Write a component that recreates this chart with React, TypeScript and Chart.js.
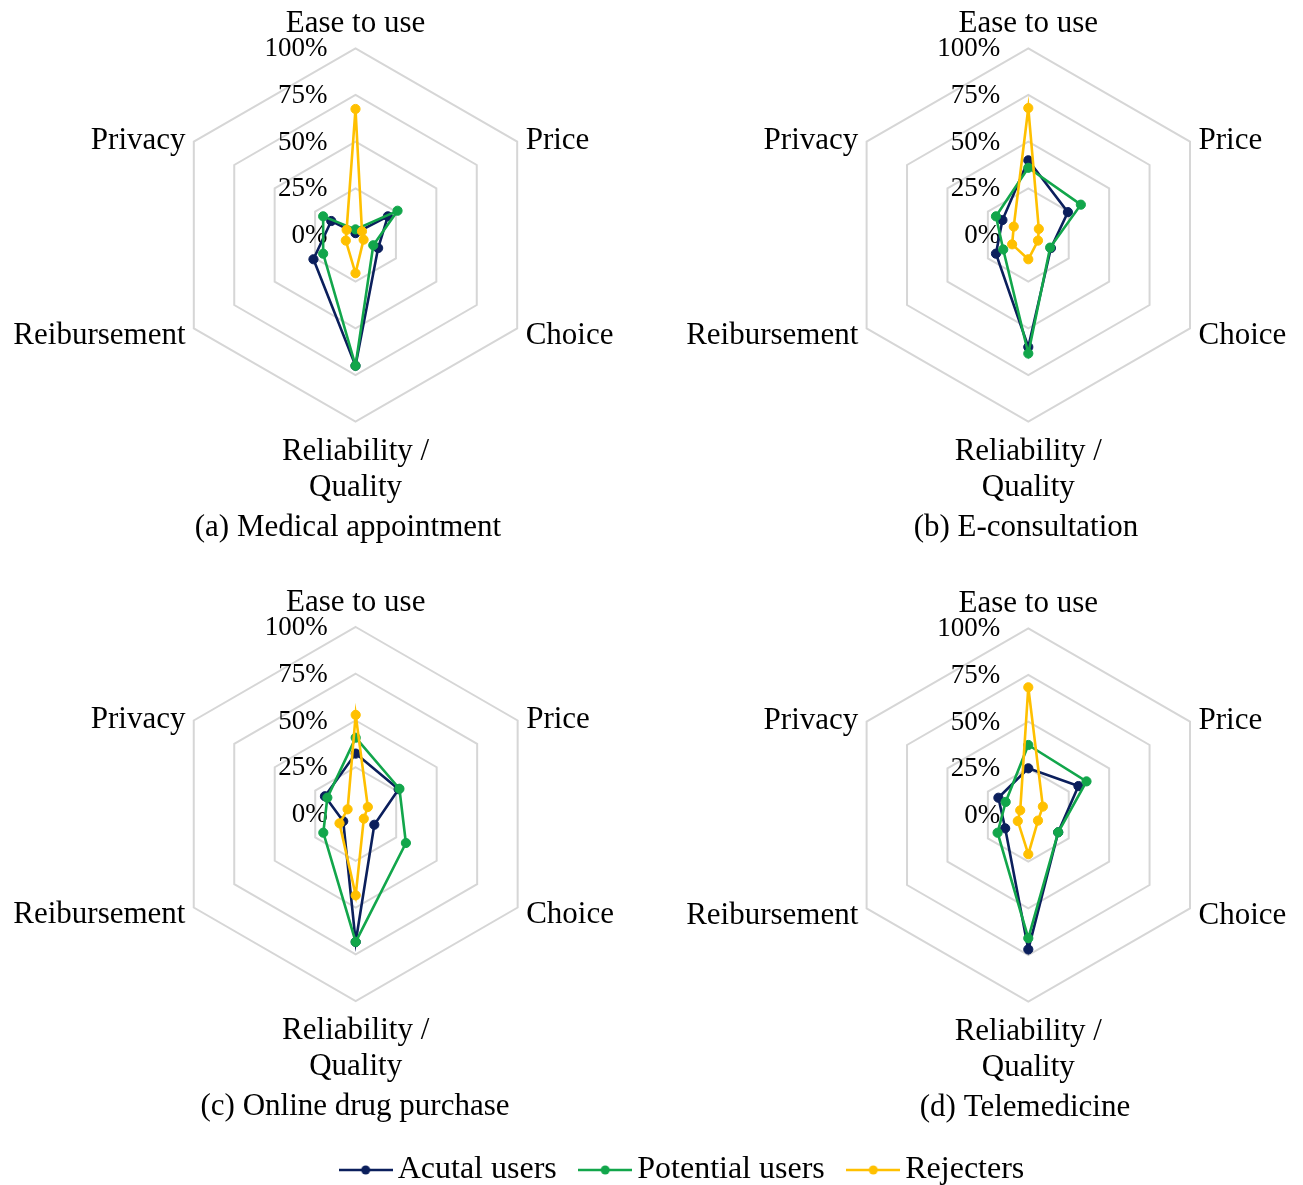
import React, { useEffect, useRef } from "react";
import { Chart, registerables } from "chart.js";

Chart.register(...registerables);

// ---------- data ----------
const categories: (string | string[])[] = [
  "Ease to use",
  "Price",
  "Choice",
  ["Reliability /", "Quality"],
  "Reibursement",
  "Privacy",
];
const seriesNames = ["Acutal users", "Potential users", "Rejecters"];
const seriesColors = ["#0b1f5c", "#12a64b", "#ffc000"];
const tickStep = 25;
const scaleMax = 100;

const medicalActual = [1, 20, 14, 70, 26, 15];
const medicalPotential = [3, 26, 11, 70, 20, 20];
const medicalRejecters = [67.5, 4, 5, 20.5, 6, 5.5];

const consultActual = [40, 24.5, 14, 60, 20, 16];
const consultPotential = [36, 32.5, 13.5, 63.5, 15.5, 20];
const consultRejecters = [68, 6.5, 6, 13, 10, 9];

const drugActual = [32.3, 26.5, 11.5, 68.4, 7.7, 19];
const drugPotential = [40.8, 27, 31, 68.4, 20, 17.5];
const drugRejecters = [53, 7.5, 5, 43.5, 10, 5];

const teleActual = [25, 31, 18.5, 72, 14.3, 18.5];
const telePotential = [37.5, 36, 18.5, 66, 19, 14];
const teleRejecters = [68.4, 9, 6, 21, 6.5, 5];

const captions = [
  "(a) Medical appointment",
  "(b) E-consultation",
  "(c) Online drug purchase",
  "(d) Telemedicine",
];

// ---------- layout (positions / sizes only) ----------
const W = 1303;
const H = 1185;
const panels = [
  { cx: 355.5, cy: 235, r: 186.7, capX: 348, series: [medicalActual, medicalPotential, medicalRejecters] },
  { cx: 1028.3, cy: 235, r: 186.7, capX: 1026, series: [consultActual, consultPotential, consultRejecters] },
  { cx: 355.7, cy: 814, r: 187, capX: 355, series: [drugActual, drugPotential, drugRejecters] },
  { cx: 1028.3, cy: 815, r: 186.7, capX: 1025, series: [teleActual, telePotential, teleRejecters] },
];

const FONT = '"Liberation Serif", "Times New Roman", serif';

function makeLegendIcon(color: string): HTMLCanvasElement {
  const c = document.createElement("canvas");
  c.width = 54;
  c.height = 12;
  const g = c.getContext("2d")!;
  g.strokeStyle = color;
  g.lineWidth = 2.5;
  g.beginPath();
  g.moveTo(0, 6);
  g.lineTo(54, 6);
  g.stroke();
  g.fillStyle = color;
  g.beginPath();
  g.arc(27, 6, 4.5, 0, Math.PI * 2);
  g.fill();
  return c;
}

const textPlugin = {
  id: "radarText",
  beforeDatasetsDraw(chart: any) {
    const s = chart.scales.r;
    const ctx = chart.ctx;
    ctx.save();
    ctx.fillStyle = "#000";
    ctx.font = `27px ${FONT}`;
    ctx.textAlign = "right";
    ctx.textBaseline = "middle";
    s.ticks.forEach((t: any) => {
      const d = s.getDistanceFromCenterForValue(t.value);
      ctx.fillText(t.value + "%", s.xCenter - 28, s.yCenter - d + 1);
    });
    ctx.restore();
  },
  afterDraw(chart: any, _args: any, opts: any) {
    const s = chart.scales.r;
    const ctx = chart.ctx;
    const labels = chart.data.labels as (string | string[])[];
    ctx.save();
    ctx.fillStyle = "#000";
    ctx.font = `31px ${FONT}`;
    ctx.textBaseline = "alphabetic";
    labels.forEach((lab, i) => {
      const p = s.getPointPosition(i, s.drawingArea);
      const lines = Array.isArray(lab) ? lab : [lab];
      let x = p.x;
      let y = p.y;
      let align: CanvasTextAlign = "center";
      if (i === 0) {
        y = p.y - 16;
      } else if (i === 1) {
        align = "left"; x = p.x + 8.5; y = p.y + 7;
      } else if (i === 2) {
        align = "left"; x = p.x + 8.5; y = p.y + 15.5;
      } else if (i === 3) {
        y = p.y + 38;
      } else if (i === 4) {
        align = "right"; x = p.x - 8.3; y = p.y + 15.5;
      } else {
        align = "right"; x = p.x - 8.3; y = p.y + 7;
      }
      ctx.textAlign = align;
      lines.forEach((ln, k) => ctx.fillText(ln, x, y + k * 36.4));
    });
    // caption
    ctx.textAlign = "center";
    ctx.fillText(opts.caption, opts.capX, s.yCenter + s.drawingArea + 114);
    ctx.restore();
  },
};

function buildConfig(idx: number): any {
  const p = panels[idx];
  const withLegend = idx === panels.length - 1;
  const icons = seriesColors.map((c) => makeLegendIcon(c));
  return {
    type: "radar",
    data: {
      labels: categories,
      datasets: seriesNames.map((name, k) => ({
        label: name,
        data: p.series[k],
        borderColor: seriesColors[k],
        backgroundColor: seriesColors[k],
        pointBackgroundColor: seriesColors[k],
        pointBorderColor: seriesColors[k],
        pointBorderWidth: 1,
        pointRadius: 4.6,
        borderWidth: 2.6,
        fill: false,
        tension: 0,
        order: 2 - k,
      })),
    },
    options: {
      responsive: false,
      animation: false,
      devicePixelRatio: 1,
      layout: withLegend ? { padding: { left: 71, bottom: -11 } } : { padding: 0 },
      scales: {
        r: {
          min: 0,
          max: scaleMax,
          beginAtZero: true,
          ticks: { stepSize: tickStep, display: false },
          grid: { color: "#d6d6d6", lineWidth: 2 },
          angleLines: { display: false },
          pointLabels: { display: false },
          afterFit: (s: any) => {
            s.xCenter = p.cx;
            s.yCenter = p.cy;
            s.drawingArea = p.r;
          },
        },
      },
      plugins: {
        tooltip: { enabled: false },
        radarText: { caption: captions[idx], capX: p.capX },
        legend: {
          display: withLegend,
          position: "bottom",
          labels: {
            usePointStyle: true,
            pointStyleWidth: 32,
            padding: 32.5,
            color: "#000",
            font: { family: FONT, size: 32 },
            generateLabels: (chart: any) =>
              chart.data.datasets.map((ds: any, k: number) => ({
                text: ds.label,
                fillStyle: seriesColors[k],
                strokeStyle: seriesColors[k],
                lineWidth: 0,
                pointStyle: icons[k],
                hidden: false,
                datasetIndex: k,
                fontColor: "#000",
              })),
          },
        },
      },
    },
    plugins: [textPlugin],
  };
}

export default function App() {
  const canvases = useRef<(HTMLCanvasElement | null)[]>([]);
  useEffect(() => {
    const charts = panels.map((_, i) => new Chart(canvases.current[i] as HTMLCanvasElement, buildConfig(i)));
    return () => charts.forEach((c) => c.destroy());
  }, []);
  return (
    <div
      style={{
        position: "absolute",
        left: 0,
        top: 0,
        width: W,
        height: H,
        overflow: "hidden",
        background: "#fff",
      }}
    >
      {panels.map((_, i) => (
        <canvas
          key={i}
          ref={(el) => {
            canvases.current[i] = el;
          }}
          width={W}
          height={H}
          style={{ position: "absolute", left: 0, top: 0, width: W, height: H }}
        />
      ))}
    </div>
  );
}
